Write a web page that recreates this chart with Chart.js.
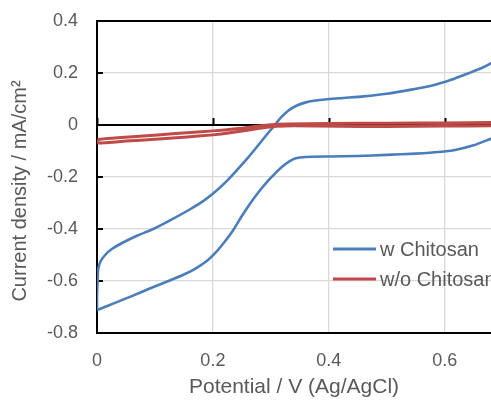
<!DOCTYPE html>
<html><head><meta charset="utf-8">
<script src="https://cdn.jsdelivr.net/npm/chart.js@4/dist/chart.umd.min.js"></script>
<style>html,body{margin:0;padding:0;background:#fff;overflow:hidden}</style>
</head><body>
<canvas id="c" width="491" height="400"></canvas>
<script>
// ---- data ----
const seriesNames = ['w Chitosan', 'w/o Chitosan'];
const xTitle = 'Potential / V (Ag/AgCl)';
const yTitle = 'Current density / mA/cm\u00B2';
const xTickValues = [0, 0.2, 0.4, 0.6];
const yTickValues = [-0.8, -0.6, -0.4, -0.2, 0, 0.2, 0.4];

const withChitosanV = [0.000,0.000,0.001,0.002,0.006,0.014,0.025,0.045,0.070,0.100,0.130,0.160,0.185,0.205,0.222,0.238,0.255,0.272,0.290,0.305,0.318,0.330,0.345,0.362,0.385,0.420,0.460,0.500,0.540,0.580,0.610,0.640,0.665,0.690,0.720,0.740,
  0.740,0.710,0.680,0.650,0.620,0.590,0.550,0.500,0.450,0.400,0.360,0.343,0.332,0.320,0.308,0.295,0.280,0.265,0.250,0.235,0.220,0.205,0.190,0.170,0.150,0.120,0.090,0.060,0.030,0.010,0.000];
const withChitosanJ = [-0.712,-0.660,-0.600,-0.555,-0.525,-0.500,-0.478,-0.452,-0.425,-0.397,-0.362,-0.325,-0.290,-0.255,-0.220,-0.182,-0.140,-0.095,-0.045,-0.005,0.030,0.055,0.075,0.088,0.096,0.103,0.110,0.120,0.135,0.153,0.173,0.198,0.220,0.250,0.290,0.320,
  0.020,-0.030,-0.053,-0.078,-0.095,-0.104,-0.110,-0.115,-0.119,-0.121,-0.123,-0.128,-0.140,-0.160,-0.185,-0.215,-0.255,-0.300,-0.350,-0.405,-0.450,-0.490,-0.522,-0.552,-0.575,-0.603,-0.630,-0.658,-0.685,-0.703,-0.712];

const withoutChitosanV = [0.000,0.004,0.030,0.080,0.130,0.180,0.220,0.250,0.275,0.300,0.330,0.400,0.500,0.600,0.680,0.740,
  0.740,0.680,0.600,0.500,0.420,0.340,0.310,0.290,0.265,0.230,0.200,0.150,0.100,0.050,0.015,0.003,0.000];
const withoutChitosanJ = [-0.062,-0.055,-0.050,-0.042,-0.034,-0.026,-0.019,-0.012,-0.005,0.001,0.004,0.006,0.007,0.008,0.010,0.012,
  -0.002,-0.003,-0.004,-0.006,-0.005,-0.003,-0.005,-0.010,-0.018,-0.030,-0.038,-0.047,-0.055,-0.062,-0.068,-0.069,-0.062];

const seriesColors = ['#4a7ebb', '#be4b48'];
const FONT = '"Liberation Sans", Arial, sans-serif';
const TEXT = '#595959';

function pts(xs, ys) { return xs.map((x, i) => ({x: x, y: ys[i]})); }
function fmt(v) { return String(Math.round(v * 10) / 10); }

const insideTicks = {
  id: 'insideTicks',
  beforeDatasetsDraw(chart) {
    const ctx = chart.ctx, a = chart.chartArea, xs = chart.scales.x, ys = chart.scales.y;
    ctx.save();
    ctx.strokeStyle = '#000'; ctx.lineWidth = 2;
    yTickValues.forEach(v => {
      const py = Math.round(ys.getPixelForValue(v));
      ctx.beginPath(); ctx.moveTo(a.left, py); ctx.lineTo(a.left + 6, py); ctx.stroke();
    });
    const y0 = Math.round(ys.getPixelForValue(0));
    xTickValues.forEach(v => {
      const px = Math.round(xs.getPixelForValue(v)) + 0.5;
      ctx.beginPath(); ctx.moveTo(px, y0); ctx.lineTo(px, y0 - 7); ctx.stroke();
    });
    ctx.restore();
  }
};

const yTitlePlugin = {
  id: 'yTitlePlugin',
  afterDraw(chart) {
    const ctx = chart.ctx, a = chart.chartArea;
    ctx.save();
    ctx.translate(26, (a.top + a.bottom) / 2 + 14);
    ctx.rotate(-Math.PI / 2);
    ctx.font = '20px ' + FONT;
    ctx.fillStyle = TEXT;
    ctx.textAlign = 'center';
    ctx.textBaseline = 'alphabetic';
    ctx.fillText(yTitle, 0, 0);
    ctx.restore();
  }
};

const innerLegend = {
  id: 'innerLegend',
  afterDraw(chart) {
    const ctx = chart.ctx, a = chart.chartArea;
    const x0 = a.left + 236, x1 = a.left + 279, tx = a.left + 283;
    const rows = [a.top + 228, a.top + 258];
    ctx.save();
    ctx.font = '20px ' + FONT;
    ctx.textBaseline = 'middle';
    ctx.textAlign = 'left';
    seriesNames.forEach((name, i) => {
      ctx.strokeStyle = seriesColors[i]; ctx.lineWidth = 3;
      ctx.beginPath(); ctx.moveTo(x0, rows[i]); ctx.lineTo(x1, rows[i]); ctx.stroke();
      ctx.fillStyle = TEXT;
      ctx.fillText(name, tx, rows[i] + 1);
    });
    ctx.restore();
  }
};

new Chart(document.getElementById('c'), {
  type: 'scatter',
  data: {
    datasets: [
      {label: seriesNames[0], data: pts(withChitosanV, withChitosanJ), showLine: true, borderColor: seriesColors[0], backgroundColor: seriesColors[0], borderWidth: 2.6, pointRadius: 0, tension: 0.2, order: 1},
      {label: seriesNames[1], data: pts(withoutChitosanV, withoutChitosanJ), showLine: true, borderColor: seriesColors[1], backgroundColor: seriesColors[1], borderWidth: 3, pointRadius: 0, tension: 0.2, order: 0}
    ]
  },
  options: {
    responsive: false,
    animation: false,
    devicePixelRatio: 1,
    layout: {padding: {top: 21, right: 0, bottom: 0, left: 0}},
    plugins: {legend: {display: false}, tooltip: {enabled: false}},
    scales: {
      x: {
        type: 'linear', min: 0, max: 0.68,
        afterBuildTicks: s => { s.ticks = xTickValues.map(v => ({value: v})); },
        afterFit: s => { s.height = 67; s.paddingLeft = 0; s.paddingRight = 0; },
        ticks: {padding: 17, color: TEXT, font: {family: FONT, size: 18}, callback: v => fmt(v), maxRotation: 0, autoSkip: false},
        grid: {color: '#d9d9d9', lineWidth: 1.3, drawTicks: false},
        border: {color: '#000', width: 2},
        title: {display: true, text: xTitle, color: TEXT, font: {family: FONT, size: 21}, padding: {top: 0, bottom: 0}}
      },
      y: {
        type: 'linear', min: -0.8, max: 0.4,
        afterBuildTicks: s => { s.ticks = yTickValues.map(v => ({value: v})); },
        afterFit: s => { s.width = 97; s.paddingTop = 0; s.paddingBottom = 0; },
        ticks: {padding: 19, color: TEXT, font: {family: FONT, size: 18}, callback: v => fmt(v), autoSkip: false},
        grid: {
          color: c => (c.tick && (Math.abs(c.tick.value) < 1e-9 || Math.abs(c.tick.value - 0.4) < 1e-9 || Math.abs(c.tick.value + 0.8) < 1e-9)) ? '#000' : '#d9d9d9',
          lineWidth: c => (c.tick && (Math.abs(c.tick.value) < 1e-9 || Math.abs(c.tick.value - 0.4) < 1e-9 || Math.abs(c.tick.value + 0.8) < 1e-9)) ? 2 : 1.3,
          drawTicks: false
        },
        border: {color: '#000', width: 2}
      }
    }
  },
  plugins: [insideTicks, yTitlePlugin, innerLegend]
});
</script>
</body></html>
